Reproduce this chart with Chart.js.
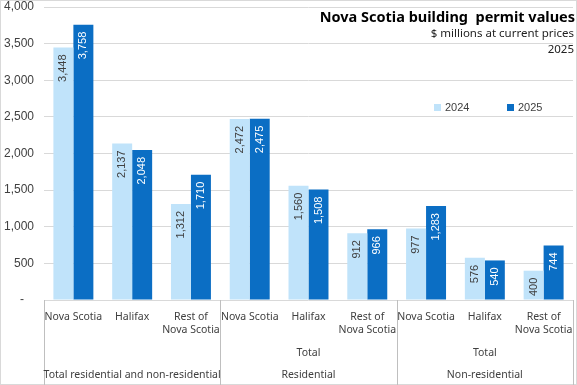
<!DOCTYPE html>
<html>
<head>
<meta charset="utf-8">
<script src="https://cdn.jsdelivr.net/npm/chart.js@4.4.1/dist/chart.umd.min.js"></script>
<style>
  body { margin: 0; background: #fff; }
  #wrap { position: relative; width: 577px; height: 385px; box-sizing: border-box; border: 1px solid #d9d9d9; }
  canvas { position: absolute; left: -1px; top: -1px; }
</style>
</head>
<body>
<div id="wrap"><canvas id="permits" width="577" height="385"></canvas></div>
<script>
// categories (bottom row) and their groups
const categories = [
  'Nova Scotia', 'Halifax', ['Rest of', 'Nova Scotia'],
  'Nova Scotia', 'Halifax', ['Rest of', 'Nova Scotia'],
  'Nova Scotia', 'Halifax', ['Rest of', 'Nova Scotia']
];
const groupNames = ['Total residential and non-residential', 'Residential', 'Non-residential'];
const groupSubNames = ['', 'Total', 'Total'];
const groupSize = 3;

// $ millions
const values2024 = [3448, 2137, 1312, 2472, 1560, 912, 977, 576, 400];
const values2025 = [3758, 2048, 1710, 2475, 1508, 966, 1283, 540, 744];

const yTicks = [0, 500, 1000, 1500, 2000, 2500, 3000, 3500, 4000];

const titleText = 'Nova Scotia building  permit values';
const subtitleText = '$ millions at current prices';
const yearText = '2025';

const lightBlue = '#c0e3fa';
const darkBlue = '#0b6ec4';
const textColor = '#404040';
const catFont = '"Noto Sans", sans-serif';
const numFont = '"Liberation Sans", Arial, sans-serif';

const fmt = v => v.toLocaleString('en-US');

// rotated value labels inside the top of each bar
const barLabels = {
  id: 'barLabels',
  afterDatasetsDraw(chart) {
    const ctx = chart.ctx;
    ctx.save();
    ctx.font = '11px ' + numFont;
    ctx.textAlign = 'right';
    ctx.textBaseline = 'middle';
    chart.data.datasets.forEach((ds, di) => {
      const meta = chart.getDatasetMeta(di);
      ctx.fillStyle = di === 0 ? textColor : '#ffffff';
      meta.data.forEach((bar, i) => {
        ctx.save();
        ctx.translate(bar.x, bar.y + 7);
        ctx.rotate(-Math.PI / 2);
        ctx.fillText(fmt(ds.data[i]), 0, 0);
        ctx.restore();
      });
    });
    ctx.restore();
  }
};

// title block, legend, group labels and separators
const extras = {
  id: 'extras',
  afterDraw(chart) {
    const ctx = chart.ctx;
    const area = chart.chartArea;
    const x = chart.scales.x;
    ctx.save();

    // title
    ctx.fillStyle = '#000';
    ctx.textAlign = 'right';
    ctx.textBaseline = 'middle';
    ctx.font = 'bold 14.5px ' + catFont;
    ctx.fillText(titleText, 575, 18);
    ctx.fillStyle = '#222';
    ctx.font = '11.5px ' + catFont;
    ctx.fillText(subtitleText, 574, 34);
    ctx.fillText(yearText, 574, 50);

    // legend
    ctx.textAlign = 'left';
    ctx.font = '11px ' + numFont;
    const legendX = [434, 507];
    chart.data.datasets.forEach((ds, i) => {
      ctx.fillStyle = ds.backgroundColor;
      ctx.fillRect(legendX[i], 104, 7, 7);
      ctx.fillStyle = textColor;
      ctx.fillText(ds.label, legendX[i] + 11, 108);
    });

    // separators between groups
    const step = x.getPixelForValue(1) - x.getPixelForValue(0);
    ctx.strokeStyle = '#bfbfbf';
    ctx.lineWidth = 1;
    for (let g = 0; g <= groupNames.length; g++) {
      let px = x.getPixelForValue(g * groupSize) - step / 2;
      px = Math.round(px) + 0.5;
      ctx.beginPath();
      ctx.moveTo(px, area.bottom);
      ctx.lineTo(px, chart.height);
      ctx.stroke();
    }

    // group labels
    ctx.fillStyle = textColor;
    ctx.textAlign = 'center';
    ctx.font = '10.5px ' + catFont;
    groupNames.forEach((name, g) => {
      const left = x.getPixelForValue(g * groupSize) - step / 2;
      const right = x.getPixelForValue(g * groupSize + groupSize - 1) + step / 2;
      const mid = (left + right) / 2;
      if (groupSubNames[g]) ctx.fillText(groupSubNames[g], mid, 353);
      ctx.fillText(name, mid, 375);
    });
    ctx.restore();
  }
};

new Chart(document.getElementById('permits'), {
  type: 'bar',
  data: {
    labels: categories,
    datasets: [
      { label: '2024', data: values2024, backgroundColor: lightBlue },
      { label: '2025', data: values2025, backgroundColor: darkBlue }
    ]
  },
  options: {
    responsive: false,
    animation: false,
    layout: { padding: { top: 7, right: 4, left: 0, bottom: 0 } },
    plugins: {
      legend: { display: false },
      tooltip: { enabled: false }
    },
    datasets: {
      bar: { categoryPercentage: 0.68, barPercentage: 1 }
    },
    scales: {
      x: {
        grid: { display: false },
        border: { display: false },
        ticks: {
          color: textColor,
          font: { family: catFont, size: 10.5 },
          maxRotation: 0,
          autoSkip: false,
          padding: 3
        },
        afterFit(scale) { scale.height = 85; }
      },
      y: {
        min: 0,
        max: 4000,
        afterBuildTicks(scale) { scale.ticks = yTicks.map(v => ({ value: v })); },
        grid: { color: '#d9d9d9', drawTicks: false },
        border: { display: false },
        ticks: {
          color: textColor,
          font: { family: numFont, size: 12 },
          padding: 10,
          callback: v => v === 0 ? '-   ' : fmt(v)
        },
        afterFit(scale) {
          scale.width = 44;
          scale.paddingTop = 0;
          scale.paddingBottom = 0;
        }
      }
    }
  },
  plugins: [barLabels, extras]
});
</script>
</body>
</html>
